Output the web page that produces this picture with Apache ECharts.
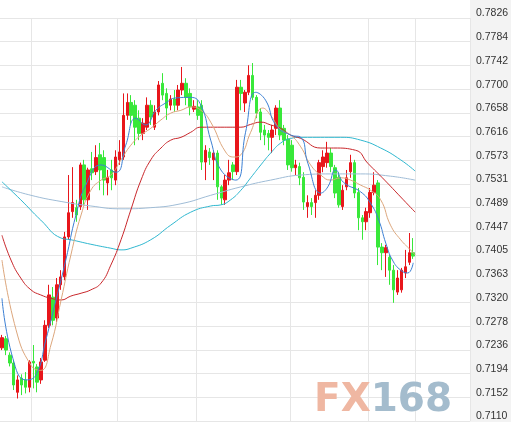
<!DOCTYPE html>
<html><head><meta charset="utf-8">
<script src="https://cdn.jsdelivr.net/npm/echarts@6/dist/echarts.min.js"></script>
<style>html,body{margin:0;padding:0;background:#fff}#c{width:511px;height:422px}</style>
</head><body><div id="c"></div>
<script>
// [open, close, low, high]
const candles = [
[0.7240,0.7258,0.7236,0.7263],[0.7256,0.7236,0.7227,0.7261],[0.7227,0.7213,0.7207,0.7232],[0.7213,0.7174,0.7165,0.7218],
[0.7161,0.7183,0.7150,0.7191],[0.7186,0.7174,0.7156,0.7193],[0.7183,0.7170,0.7159,0.7197],[0.7170,0.7215,0.7161,0.7218],
[0.7216,0.7213,0.7168,0.7245],[0.7206,0.7179,0.7161,0.7211],[0.7183,0.7215,0.7176,0.7222],[0.7218,0.7280,0.7215,0.7289],
[0.7280,0.7334,0.7275,0.7352],[0.7330,0.7289,0.7280,0.7348],[0.7293,0.7352,0.7286,0.7364],[0.7352,0.7366,0.7343,0.7378],
[0.7366,0.7437,0.7360,0.7446],[0.7437,0.7480,0.7432,0.7547],[0.7482,0.7498,0.7471,0.7561],[0.7489,0.7476,0.7464,0.7503],
[0.7491,0.7565,0.7485,0.7569],[0.7565,0.7503,0.7494,0.7574],[0.7503,0.7556,0.7485,0.7560],[0.7558,0.7551,0.7538,0.7588],
[0.7553,0.7578,0.7547,0.7600],[0.7583,0.7556,0.7520,0.7604],[0.7578,0.7538,0.7511,0.7591],[0.7533,0.7543,0.7511,0.7556],
[0.7556,0.7542,0.7520,0.7574],[0.7538,0.7579,0.7529,0.7591],[0.7574,0.7588,0.7565,0.7609],[0.7579,0.7653,0.7574,0.7692],
[0.7653,0.7676,0.7645,0.7692],[0.7676,0.7653,0.7636,0.7689],[0.7671,0.7632,0.7600,0.7680],[0.7648,0.7621,0.7609,0.7662],
[0.7621,0.7639,0.7609,0.7648],[0.7632,0.7671,0.7627,0.7685],[0.7671,0.7650,0.7636,0.7680],[0.7632,0.7659,0.7627,0.7671],
[0.7659,0.7707,0.7653,0.7714],[0.7710,0.7689,0.7680,0.7728],[0.7692,0.7666,0.7645,0.7701],[0.7671,0.7682,0.7662,0.7689],
[0.7682,0.7671,0.7659,0.7698],[0.7671,0.7698,0.7662,0.7707],[0.7698,0.7710,0.7689,0.7739],[0.7710,0.7685,0.7671,0.7719],
[0.7692,0.7668,0.7653,0.7701],[0.7664,0.7669,0.7659,0.7680],[0.7668,0.7653,0.7645,0.7680],[0.7671,0.7570,0.7556,0.7680],
[0.7570,0.7591,0.7538,0.7600],[0.7588,0.7578,0.7565,0.7595],[0.7574,0.7586,0.7538,0.7591],[0.7586,0.7526,0.7503,0.7591],
[0.7526,0.7506,0.7494,0.7529],[0.7503,0.7538,0.7494,0.7547],[0.7538,0.7551,0.7529,0.7574],[0.7565,0.7553,0.7538,0.7570],
[0.7553,0.7703,0.7547,0.7716],[0.7703,0.7692,0.7662,0.7716],[0.7675,0.7694,0.7659,0.7698],[0.7694,0.7724,0.7689,0.7742],
[0.7724,0.7685,0.7680,0.7746],[0.7685,0.7657,0.7648,0.7689],[0.7659,0.7623,0.7609,0.7666],[0.7627,0.7618,0.7600,0.7636],
[0.7621,0.7614,0.7591,0.7627],[0.7614,0.7627,0.7586,0.7636],[0.7630,0.7666,0.7618,0.7671],[0.7666,0.7618,0.7609,0.7680],
[0.7630,0.7609,0.7600,0.7636],[0.7611,0.7565,0.7556,0.7618],[0.7600,0.7560,0.7553,0.7609],[0.7560,0.7565,0.7547,0.7574],
[0.7562,0.7542,0.7529,0.7569],[0.7543,0.7499,0.7485,0.7552],[0.7491,0.7498,0.7471,0.7511],[0.7498,0.7491,0.7476,0.7506],
[0.7498,0.7511,0.7471,0.7520],[0.7511,0.7569,0.7503,0.7574],[0.7562,0.7579,0.7552,0.7591],[0.7569,0.7586,0.7560,0.7606],
[0.7586,0.7562,0.7552,0.7595],[0.7560,0.7515,0.7506,0.7565],[0.7543,0.7494,0.7489,0.7552],[0.7491,0.7520,0.7485,0.7529],
[0.7526,0.7542,0.7520,0.7556],[0.7553,0.7569,0.7542,0.7583],[0.7569,0.7515,0.7506,0.7574],[0.7516,0.7471,0.7449,0.7524],
[0.7471,0.7464,0.7432,0.7476],[0.7464,0.7482,0.7449,0.7489],[0.7480,0.7516,0.7471,0.7524],[0.7516,0.7529,0.7511,0.7552],
[0.7533,0.7419,0.7387,0.7538],[0.7419,0.7409,0.7378,0.7426],[0.7409,0.7418,0.7366,0.7423],[0.7401,0.7378,0.7352,0.7405],
[0.7378,0.7343,0.7320,0.7387],[0.7339,0.7364,0.7334,0.7378],[0.7343,0.7378,0.7338,0.7382],[0.7373,0.7384,0.7364,0.7414],
[0.7392,0.7409,0.7387,0.7444],[0.7409,0.7403,0.7398,0.7435]
];
// moving averages as [candle index, value]
const ma5 = [[0,.7328],[2.8,.7221],[6.1,.7183],[8.7,.7192],[11.2,.7254],[13.8,.7325],[16.3,.7396],[18.9,.7476],[21.4,.7529],[25.3,.7565],[29.1,.7552],[31.6,.7600],[34.2,.7648],[36.7,.7636],[39.3,.7662],[41.8,.7675],[44.4,.7684],[48.2,.7685],[50.8,.7671],[53.3,.7609],[55.9,.7556],[59.7,.7538],[62.2,.7623],[64.8,.7694],[67.3,.7680],[69.9,.7636],[73.7,.7618],[76.3,.7614],[78.1,.7568],[81.4,.7515],[83.2,.7526],[85.2,.7556],[87.2,.7534],[91.6,.7517],[94.1,.7497],[96.2,.7467],[98.0,.7426],[99.7,.7396],[101.8,.7378],[103.6,.7373],[105,.7391]];
const ma10 = [[0,.7396],[3.6,.7272],[7.4,.7209],[9.9,.7200],[12.5,.7245],[15.1,.7325],[17.6,.7405],[20.2,.7476],[22.7,.7520],[25.3,.7538],[27.8,.7547],[30.4,.7574],[32.9,.7600],[35.5,.7618],[38.0,.7630],[40.6,.7645],[43.1,.7657],[45.7,.7662],[48.2,.7668],[50.8,.7662],[53.3,.7641],[57.1,.7588],[59.2,.7579],[61.0,.7583],[63.5,.7623],[66.6,.7666],[68.6,.7653],[71.2,.7627],[73.7,.7618],[76.3,.7597],[78.8,.7565],[81.4,.7547],[83.9,.7538],[86.5,.7542],[89.0,.7538],[91.6,.7529],[94.1,.7520],[96.7,.7503],[99.2,.7458],[101.8,.7432],[104.3,.7414],[105.5,.7405]];
const ma20 = [[0,.7440],[2.3,.7396],[4.8,.7364],[7.4,.7343],[9.9,.7334],[12.5,.7328],[15.1,.7325],[17.6,.7332],[20.2,.7337],[22.7,.7343],[25.3,.7355],[27.8,.7387],[30.4,.7432],[32.9,.7485],[35.5,.7538],[38.0,.7574],[40.6,.7595],[43.1,.7609],[45.7,.7614],[48.2,.7623],[50.8,.7632],[55.9,.7632],[61.0,.7632],[63.5,.7637],[66.1,.7641],[68.6,.7636],[71.2,.7630],[73.7,.7618],[76.3,.7612],[81.4,.7595],[84.7,.7595],[90.3,.7591],[93.4,.7568],[97.7,.7538],[101.8,.7508],[105.5,.7481]];
const ma60 = [[0,.7535],[4.8,.7503],[9.9,.7467],[15.1,.7435],[17.6,.7432],[22.7,.7424],[27.8,.7417],[30.4,.7414],[32.9,.7417],[38.0,.7432],[43.1,.7458],[48.2,.7481],[53.3,.7492],[55.9,.7494],[58.4,.7503],[61.0,.7520],[63.5,.7542],[66.1,.7565],[68.6,.7586],[71.2,.7604],[73.7,.7612],[76.3,.7614],[86.5,.7614],[91.6,.7609],[96.7,.7595],[101.8,.7574],[105.5,.7554]];
const ma120 = [[0,.7526],[7.4,.7511],[15.1,.7500],[22.7,.7492],[30.4,.7487],[38.0,.7489],[45.7,.7496],[53.3,.7511],[61.0,.7526],[68.6,.7538],[76.3,.7547],[83.9,.7549],[91.6,.7549],[99.2,.7545],[105.5,.7538]];
const tickLabels = ['0.7110','0.7152','0.7194','0.7236','0.7278','0.7320','0.7363','0.7405','0.7447','0.7489','0.7531','0.7573','0.7616','0.7658','0.7700','0.7742','0.7784','0.7826'];
const slotCount = 120;
const dividers = [8,30,50,74,94,106];

const cats = Array.from({length: slotCount}, (_, i) => String(i));
const yMin = 0.7110, yMax = 0.7826, yStep = (yMax - yMin) / 17;
const chart = echarts.init(document.getElementById('c'));
const lineS = (d, c) => ({type:'line', data:d, xAxisIndex:1, smooth:true, showSymbol:false, symbol:'none', lineStyle:{color:c, width:1}, z:3, silent:true});
chart.setOption({
  animation:false,
  grid:{left:0, right:41, top:18, bottom:1, containLabel:false, outerBoundsMode:'none'},
  graphic:[
    {type:'rect', right:0, top:0, shape:{width:41, height:422}, style:{fill:'#f3f3f3'}, z:-10},
    {type:'text', left:314, top:381, z:10, style:{text:'{a|FX}{b|168}', rich:{a:{fill:'#efb7a2', fontSize:39, fontWeight:'bold', fontFamily:'DejaVu Sans'}, b:{fill:'#a4bccd', fontSize:39, fontWeight:'bold', fontFamily:'DejaVu Sans'}}}}
  ],
  xAxis:[
    {type:'category', data:cats, boundaryGap:true, axisLine:{show:false}, axisTick:{show:false}, axisLabel:{show:false},
     splitLine:{show:true, interval:(i)=>dividers.includes(i), lineStyle:{color:'#e6e6e6', width:1}}},
    {type:'value', min:-0.5, max:slotCount-0.5, show:false}
  ],
  yAxis:{type:'value', position:'right', min:yMin, max:yMax, interval:yStep,
    axisLine:{show:false}, axisTick:{show:false},
    splitLine:{lineStyle:{color:'#e6e6e6'}},
    axisLabel:{margin:6, color:'#333', fontSize:10.5, fontFamily:'Liberation Sans', verticalAlign:'bottom', lineHeight:9,
      formatter:(v)=>tickLabels[Math.round((v-yMin)/yStep)] || ''}},
  series:[
    {type:'candlestick', data:candles, barWidth:3, z:2,
     itemStyle:{color:'#e8161b', color0:'#38e83a', borderColor:'#e8161b', borderColor0:'#38e83a', borderWidth:1}},
    lineS(ma120,'#9fbcd6'), lineS(ma60,'#2fb7cf'), lineS(ma20,'#c8262a'), lineS(ma10,'#dca67c'), lineS(ma5,'#3b7fd3')
  ]
});
</script></body></html>
